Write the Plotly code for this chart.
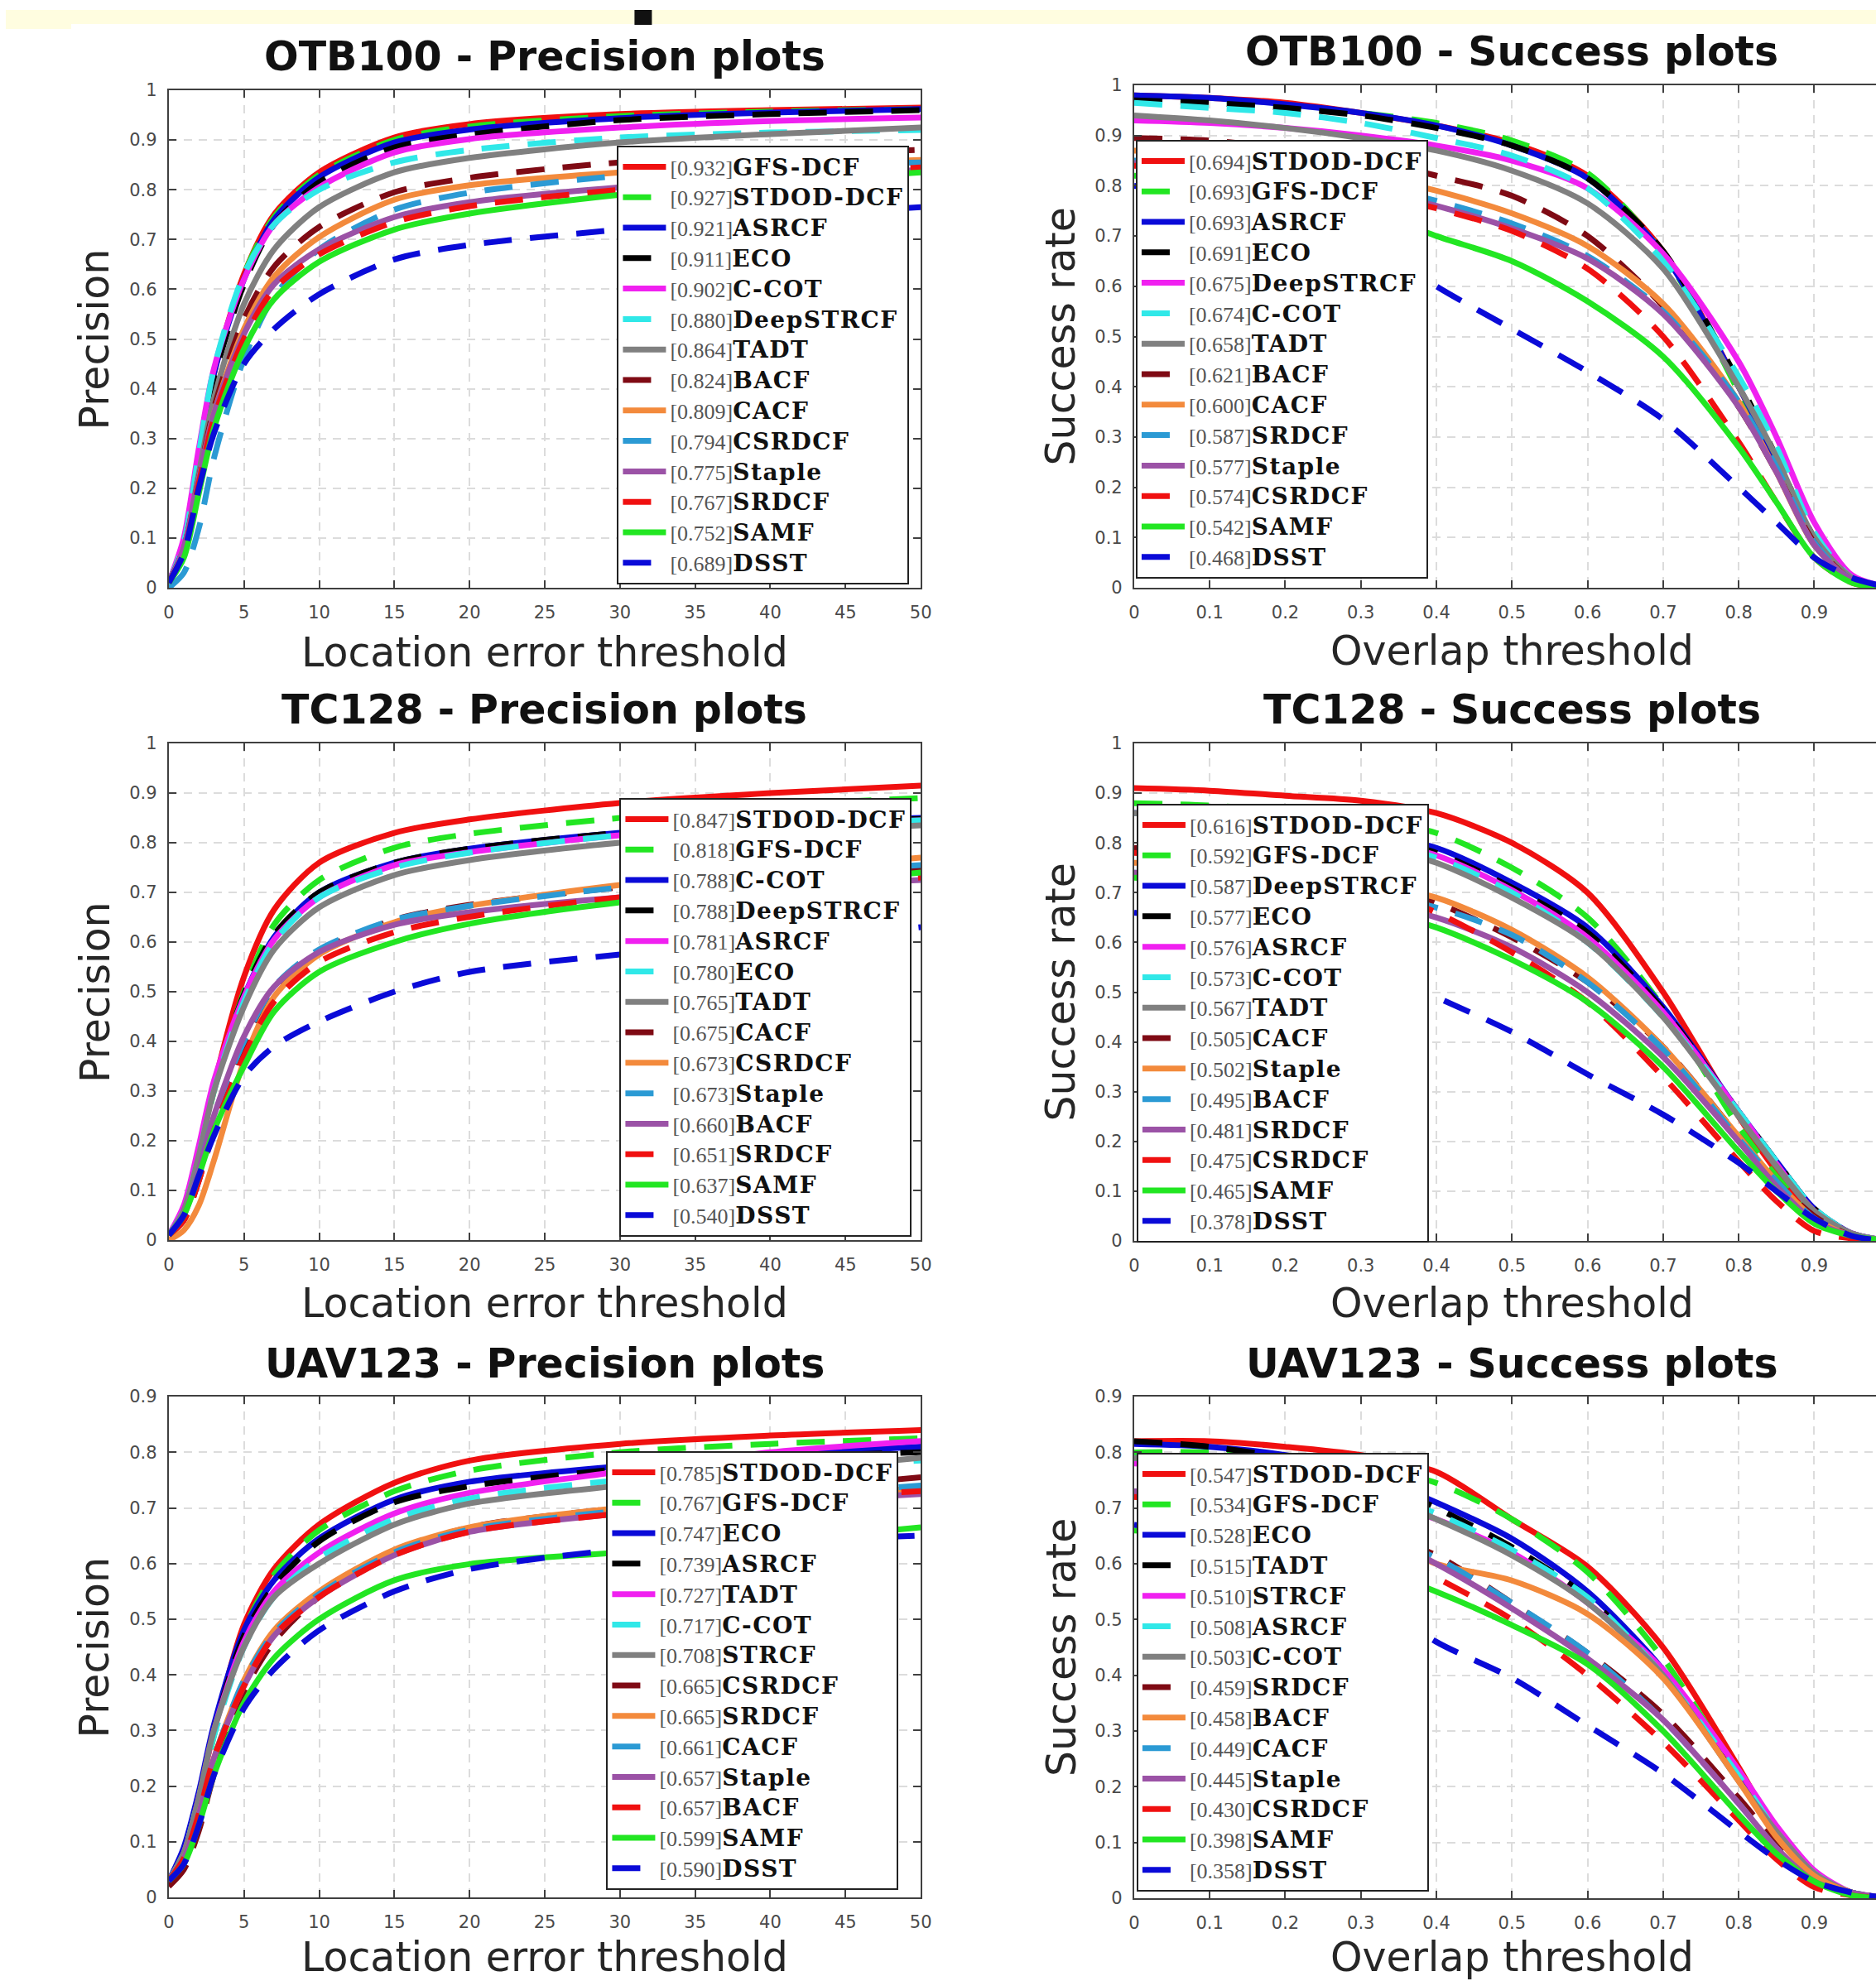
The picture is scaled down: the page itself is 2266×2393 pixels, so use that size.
import plotly.graph_objects as go

# small position correction measured against the viewer
OFF_X, SC_X = 6.0, 0.992
OFF_Y, SC_Y = 10.0, 0.990

REF_W, REF_H = 2266, 2393
W = int(round((REF_W - OFF_X) / SC_X)) + 1
H = int(round((REF_H - OFF_Y) / SC_Y)) + 1

PREC_X = [0, 1, 2, 3, 5, 7, 10, 15, 20, 30, 40, 50]
SUCC_X = [0, 0.1, 0.2, 0.3, 0.4, 0.5, 0.6, 0.7, 0.8, 0.85, 0.9, 0.95, 1.0]

PREC_TICKS = [0, 5, 10, 15, 20, 25, 30, 35, 40, 45, 50]
SUCC_TICKS = [0, 0.1, 0.2, 0.3, 0.4, 0.5, 0.6, 0.7, 0.8, 0.9]

# ---------------- OTB100 precision ----------------
OTB_P_NAMES = ["GFS-DCF", "STDOD-DCF", "ASRCF", "ECO", "C-COT", "DeepSTRCF", "TADT",
               "BACF", "CACF", "CSRDCF", "Staple", "SRDCF", "SAMF", "DSST"]
OTB_P_SCORES = [0.932, 0.927, 0.921, 0.911, 0.902, 0.880, 0.864, 0.824, 0.809, 0.794,
                0.775, 0.767, 0.752, 0.689]
OTB_P_Y = [
    [0.01, 0.09, 0.26, 0.43, 0.63, 0.75, 0.835, 0.905, 0.932, 0.952, 0.960, 0.965],
    [0.01, 0.09, 0.26, 0.43, 0.63, 0.745, 0.83, 0.90, 0.927, 0.948, 0.957, 0.962],
    [0.01, 0.09, 0.26, 0.43, 0.62, 0.74, 0.825, 0.895, 0.921, 0.944, 0.955, 0.962],
    [0.01, 0.09, 0.26, 0.42, 0.61, 0.73, 0.815, 0.885, 0.911, 0.940, 0.952, 0.960],
    [0.01, 0.10, 0.28, 0.44, 0.62, 0.73, 0.805, 0.875, 0.902, 0.925, 0.938, 0.945],
    [0.01, 0.09, 0.27, 0.44, 0.63, 0.73, 0.80, 0.855, 0.880, 0.905, 0.915, 0.920],
    [0.01, 0.08, 0.23, 0.38, 0.57, 0.68, 0.765, 0.835, 0.864, 0.895, 0.912, 0.925],
    [0.01, 0.08, 0.22, 0.36, 0.54, 0.645, 0.725, 0.795, 0.824, 0.855, 0.870, 0.880],
    [0.01, 0.07, 0.21, 0.35, 0.52, 0.625, 0.705, 0.78, 0.809, 0.835, 0.850, 0.860],
    [0.00, 0.03, 0.12, 0.26, 0.46, 0.585, 0.68, 0.76, 0.794, 0.828, 0.845, 0.855],
    [0.01, 0.08, 0.22, 0.35, 0.51, 0.61, 0.68, 0.745, 0.775, 0.805, 0.825, 0.840],
    [0.01, 0.07, 0.21, 0.34, 0.50, 0.60, 0.67, 0.735, 0.767, 0.800, 0.825, 0.845],
    [0.01, 0.06, 0.19, 0.32, 0.48, 0.58, 0.655, 0.72, 0.752, 0.790, 0.815, 0.835],
    [0.01, 0.07, 0.20, 0.31, 0.45, 0.52, 0.59, 0.66, 0.689, 0.720, 0.745, 0.765],
]

# ---------------- OTB100 success ----------------
OTB_S_NAMES = ["STDOD-DCF", "GFS-DCF", "ASRCF", "ECO", "DeepSTRCF", "C-COT", "TADT",
               "BACF", "CACF", "SRDCF", "Staple", "CSRDCF", "SAMF", "DSST"]
OTB_S_SCORES = [0.694, 0.693, 0.693, 0.691, 0.675, 0.674, 0.658, 0.621, 0.600, 0.587,
                0.577, 0.574, 0.542, 0.468]
OTB_S_Y = [
    [0.98, 0.975, 0.965, 0.945, 0.92, 0.885, 0.82, 0.67, 0.40, 0.25, 0.09, 0.015, 0.0],
    [0.975, 0.97, 0.96, 0.945, 0.925, 0.89, 0.825, 0.665, 0.39, 0.24, 0.085, 0.015, 0.0],
    [0.98, 0.975, 0.962, 0.945, 0.92, 0.88, 0.815, 0.665, 0.40, 0.25, 0.09, 0.015, 0.0],
    [0.97, 0.965, 0.955, 0.94, 0.915, 0.88, 0.815, 0.67, 0.41, 0.26, 0.10, 0.015, 0.0],
    [0.93, 0.925, 0.915, 0.90, 0.88, 0.85, 0.795, 0.665, 0.45, 0.30, 0.13, 0.025, 0.0],
    [0.965, 0.955, 0.945, 0.925, 0.895, 0.86, 0.795, 0.65, 0.42, 0.28, 0.11, 0.02, 0.0],
    [0.94, 0.93, 0.915, 0.895, 0.87, 0.83, 0.765, 0.635, 0.40, 0.26, 0.10, 0.02, 0.0],
    [0.895, 0.89, 0.875, 0.855, 0.82, 0.78, 0.70, 0.56, 0.36, 0.23, 0.09, 0.015, 0.0],
    [0.87, 0.865, 0.85, 0.825, 0.79, 0.745, 0.68, 0.565, 0.37, 0.23, 0.085, 0.015, 0.0],
    [0.85, 0.845, 0.83, 0.805, 0.77, 0.725, 0.66, 0.55, 0.37, 0.24, 0.09, 0.015, 0.0],
    [0.845, 0.835, 0.82, 0.795, 0.76, 0.715, 0.655, 0.545, 0.36, 0.23, 0.085, 0.015, 0.0],
    [0.84, 0.83, 0.81, 0.79, 0.755, 0.71, 0.635, 0.50, 0.29, 0.17, 0.06, 0.01, 0.0],
    [0.82, 0.81, 0.79, 0.755, 0.70, 0.65, 0.57, 0.46, 0.28, 0.17, 0.06, 0.01, 0.0],
    [0.80, 0.78, 0.75, 0.70, 0.60, 0.515, 0.43, 0.335, 0.20, 0.13, 0.06, 0.02, 0.0],
]

# ---------------- TC128 precision ----------------
TC_P_NAMES = ["STDOD-DCF", "GFS-DCF", "C-COT", "DeepSTRCF", "ASRCF", "ECO", "TADT",
              "CACF", "CSRDCF", "Staple", "BACF", "SRDCF", "SAMF", "DSST"]
TC_P_SCORES = [0.847, 0.818, 0.788, 0.788, 0.781, 0.780, 0.765, 0.675, 0.673, 0.673,
               0.660, 0.651, 0.637, 0.540]
TC_P_Y = [
    [0.01, 0.06, 0.17, 0.31, 0.53, 0.665, 0.76, 0.82, 0.847, 0.88, 0.90, 0.915],
    [0.01, 0.06, 0.16, 0.30, 0.50, 0.635, 0.725, 0.79, 0.818, 0.85, 0.875, 0.89],
    [0.01, 0.06, 0.17, 0.31, 0.49, 0.61, 0.70, 0.76, 0.788, 0.82, 0.84, 0.85],
    [0.01, 0.06, 0.17, 0.31, 0.495, 0.615, 0.70, 0.76, 0.788, 0.82, 0.838, 0.848],
    [0.01, 0.07, 0.19, 0.32, 0.49, 0.605, 0.69, 0.755, 0.781, 0.815, 0.835, 0.845],
    [0.01, 0.06, 0.17, 0.30, 0.48, 0.60, 0.69, 0.75, 0.780, 0.815, 0.835, 0.845],
    [0.01, 0.06, 0.17, 0.30, 0.47, 0.585, 0.67, 0.735, 0.765, 0.80, 0.82, 0.835],
    [0.01, 0.04, 0.12, 0.23, 0.39, 0.50, 0.58, 0.645, 0.675, 0.71, 0.73, 0.75],
    [0.00, 0.02, 0.07, 0.16, 0.36, 0.49, 0.575, 0.64, 0.673, 0.715, 0.745, 0.77],
    [0.01, 0.05, 0.14, 0.25, 0.40, 0.51, 0.585, 0.645, 0.673, 0.71, 0.735, 0.755],
    [0.01, 0.05, 0.14, 0.25, 0.41, 0.51, 0.58, 0.635, 0.660, 0.69, 0.71, 0.725],
    [0.01, 0.04, 0.12, 0.22, 0.37, 0.48, 0.56, 0.62, 0.651, 0.69, 0.71, 0.73],
    [0.01, 0.05, 0.13, 0.22, 0.35, 0.46, 0.54, 0.60, 0.637, 0.68, 0.71, 0.74],
    [0.01, 0.05, 0.13, 0.21, 0.33, 0.39, 0.44, 0.50, 0.540, 0.575, 0.60, 0.63],
]

# ---------------- TC128 success ----------------
TC_S_NAMES = ["STDOD-DCF", "GFS-DCF", "DeepSTRCF", "ECO", "ASRCF", "C-COT", "TADT",
              "CACF", "Staple", "BACF", "SRDCF", "CSRDCF", "SAMF", "DSST"]
TC_S_SCORES = [0.616, 0.592, 0.587, 0.577, 0.576, 0.573, 0.567, 0.505, 0.502, 0.495,
               0.481, 0.475, 0.465, 0.378]
TC_S_Y = [
    [0.91, 0.905, 0.895, 0.885, 0.86, 0.80, 0.70, 0.50, 0.25, 0.14, 0.05, 0.01, 0.0],
    [0.88, 0.875, 0.865, 0.85, 0.82, 0.75, 0.65, 0.47, 0.23, 0.13, 0.05, 0.01, 0.0],
    [0.86, 0.855, 0.84, 0.82, 0.79, 0.72, 0.63, 0.47, 0.26, 0.16, 0.065, 0.015, 0.0],
    [0.86, 0.85, 0.835, 0.815, 0.78, 0.71, 0.62, 0.465, 0.26, 0.16, 0.065, 0.015, 0.0],
    [0.86, 0.85, 0.835, 0.81, 0.775, 0.705, 0.61, 0.46, 0.26, 0.155, 0.06, 0.015, 0.0],
    [0.86, 0.85, 0.83, 0.81, 0.77, 0.70, 0.60, 0.45, 0.26, 0.16, 0.065, 0.015, 0.0],
    [0.86, 0.85, 0.83, 0.80, 0.76, 0.69, 0.60, 0.45, 0.25, 0.15, 0.06, 0.015, 0.0],
    [0.79, 0.78, 0.76, 0.73, 0.68, 0.61, 0.52, 0.39, 0.21, 0.12, 0.05, 0.01, 0.0],
    [0.76, 0.755, 0.74, 0.72, 0.69, 0.625, 0.53, 0.39, 0.21, 0.12, 0.045, 0.01, 0.0],
    [0.74, 0.735, 0.72, 0.70, 0.67, 0.615, 0.52, 0.385, 0.205, 0.12, 0.045, 0.01, 0.0],
    [0.74, 0.73, 0.71, 0.685, 0.65, 0.59, 0.50, 0.37, 0.20, 0.11, 0.04, 0.01, 0.0],
    [0.78, 0.77, 0.75, 0.72, 0.66, 0.58, 0.48, 0.33, 0.16, 0.08, 0.02, 0.005, 0.0],
    [0.73, 0.72, 0.70, 0.67, 0.63, 0.565, 0.48, 0.35, 0.18, 0.10, 0.035, 0.01, 0.0],
    [0.66, 0.64, 0.61, 0.56, 0.49, 0.42, 0.335, 0.254, 0.157, 0.10, 0.045, 0.01, 0.0],
]

# ---------------- UAV123 precision ----------------
UAV_P_NAMES = ["STDOD-DCF", "GFS-DCF", "ECO", "ASRCF", "TADT", "C-COT", "STRCF",
               "CSRDCF", "SRDCF", "CACF", "Staple", "BACF", "SAMF", "DSST"]
UAV_P_SCORES = [0.785, 0.767, 0.747, 0.739, 0.727, 0.717, 0.708, 0.665, 0.665, 0.661,
                0.657, 0.657, 0.599, 0.590]
UAV_P_Y = [
    [0.03, 0.08, 0.18, 0.30, 0.49, 0.59, 0.67, 0.745, 0.785, 0.815, 0.83, 0.84],
    [0.03, 0.08, 0.17, 0.29, 0.48, 0.58, 0.66, 0.73, 0.767, 0.80, 0.815, 0.825],
    [0.03, 0.09, 0.19, 0.31, 0.48, 0.57, 0.645, 0.715, 0.747, 0.775, 0.795, 0.81],
    [0.03, 0.08, 0.18, 0.30, 0.47, 0.56, 0.64, 0.71, 0.739, 0.77, 0.79, 0.80],
    [0.03, 0.08, 0.18, 0.30, 0.46, 0.55, 0.62, 0.69, 0.727, 0.765, 0.80, 0.82],
    [0.03, 0.08, 0.18, 0.29, 0.45, 0.54, 0.61, 0.68, 0.717, 0.75, 0.77, 0.785],
    [0.03, 0.08, 0.18, 0.30, 0.45, 0.54, 0.60, 0.67, 0.708, 0.74, 0.765, 0.79],
    [0.02, 0.05, 0.12, 0.22, 0.37, 0.46, 0.54, 0.62, 0.665, 0.70, 0.73, 0.755],
    [0.03, 0.07, 0.15, 0.25, 0.39, 0.48, 0.55, 0.625, 0.665, 0.70, 0.72, 0.735],
    [0.03, 0.07, 0.15, 0.25, 0.39, 0.475, 0.545, 0.62, 0.661, 0.695, 0.72, 0.74],
    [0.03, 0.07, 0.15, 0.25, 0.38, 0.47, 0.54, 0.615, 0.657, 0.69, 0.71, 0.725],
    [0.03, 0.07, 0.15, 0.25, 0.38, 0.47, 0.54, 0.615, 0.657, 0.69, 0.715, 0.73],
    [0.03, 0.06, 0.13, 0.22, 0.35, 0.43, 0.50, 0.57, 0.599, 0.62, 0.64, 0.665],
    [0.03, 0.06, 0.13, 0.22, 0.34, 0.41, 0.48, 0.55, 0.590, 0.625, 0.64, 0.65],
]

# ---------------- UAV123 success ----------------
UAV_S_NAMES = ["STDOD-DCF", "GFS-DCF", "ECO", "TADT", "STRCF", "ASRCF", "C-COT",
               "SRDCF", "BACF", "CACF", "Staple", "CSRDCF", "SAMF", "DSST"]
UAV_S_SCORES = [0.547, 0.534, 0.528, 0.515, 0.510, 0.508, 0.503, 0.459, 0.458, 0.449,
                0.445, 0.430, 0.398, 0.358]
UAV_S_Y = [
    [0.82, 0.82, 0.81, 0.795, 0.765, 0.68, 0.595, 0.45, 0.235, 0.12, 0.04, 0.01, 0.0],
    [0.80, 0.80, 0.79, 0.775, 0.745, 0.68, 0.585, 0.43, 0.22, 0.12, 0.04, 0.01, 0.0],
    [0.815, 0.81, 0.795, 0.765, 0.71, 0.645, 0.55, 0.41, 0.22, 0.12, 0.04, 0.01, 0.0],
    [0.82, 0.81, 0.79, 0.76, 0.70, 0.63, 0.54, 0.40, 0.22, 0.12, 0.045, 0.01, 0.0],
    [0.78, 0.77, 0.75, 0.72, 0.68, 0.62, 0.53, 0.41, 0.23, 0.13, 0.05, 0.01, 0.0],
    [0.79, 0.785, 0.77, 0.74, 0.69, 0.625, 0.54, 0.40, 0.22, 0.12, 0.045, 0.01, 0.0],
    [0.79, 0.78, 0.765, 0.735, 0.68, 0.615, 0.53, 0.40, 0.21, 0.12, 0.045, 0.01, 0.0],
    [0.73, 0.72, 0.70, 0.665, 0.615, 0.53, 0.44, 0.33, 0.18, 0.10, 0.035, 0.01, 0.0],
    [0.72, 0.71, 0.69, 0.66, 0.60, 0.57, 0.51, 0.395, 0.21, 0.11, 0.04, 0.01, 0.0],
    [0.73, 0.72, 0.70, 0.665, 0.61, 0.53, 0.44, 0.32, 0.17, 0.09, 0.03, 0.01, 0.0],
    [0.73, 0.72, 0.70, 0.665, 0.60, 0.52, 0.43, 0.32, 0.17, 0.09, 0.03, 0.01, 0.0],
    [0.72, 0.71, 0.68, 0.64, 0.575, 0.50, 0.40, 0.28, 0.14, 0.07, 0.02, 0.005, 0.0],
    [0.66, 0.65, 0.63, 0.60, 0.55, 0.49, 0.42, 0.30, 0.15, 0.08, 0.03, 0.005, 0.0],
    [0.67, 0.65, 0.61, 0.55, 0.46, 0.395, 0.31, 0.224, 0.12, 0.07, 0.03, 0.01, 0.0],
]

# style by rank
COLORS = ["#F01010", "#22E622", "#0A0AD8", "#000000", "#F020F0", "#30E8E8", "#808080",
          "#7F0A14", "#F38A3C", "#2B9AD4", "#9B52A6", "#F01010", "#22E622", "#0A0AD8"]
DASHED = [False, True, False, True, False, True, False, True, False, True, False, True, False, True]


def px_x(p):
    return min(1.0, max(0.0, ((p - OFF_X) / SC_X) / W))


def px_y(p):
    return min(1.0, max(0.0, 1 - ((p - OFF_Y) / SC_Y) / H))


# panel specs: (title, kind, names, scores, ys, xdomain px, ydomain px, yrange, title y, xtitle y, legend xy px)
PANELS = [
    ("OTB100 - Precision plots", "p", OTB_P_NAMES, OTB_P_SCORES, OTB_P_Y, (203, 1112), (107, 708), 1.0, 66, 786, (745, 174)),
    ("OTB100 - Success plots", "s", OTB_S_NAMES, OTB_S_SCORES, OTB_S_Y, (1370, 2266), (101, 708), 1.0, 60, 784, (1372, 167)),
    ("TC128 - Precision plots", "p", TC_P_NAMES, TC_P_SCORES, TC_P_Y, (203, 1112), (896, 1496), 1.0, 855, 1572, (748, 962)),
    ("TC128 - Success plots", "s", TC_S_NAMES, TC_S_SCORES, TC_S_Y, (1370, 2266), (896, 1497), 1.0, 855, 1572, (1373, 969)),
    ("UAV123 - Precision plots", "p", UAV_P_NAMES, UAV_P_SCORES, UAV_P_Y, (203, 1112), (1685, 2290), 0.9, 1645, 2362, (732, 1751)),
    ("UAV123 - Success plots", "s", UAV_S_NAMES, UAV_S_SCORES, UAV_S_Y, (1370, 2266), (1685, 2291), 0.9, 1645, 2362, (1373, 1753)),
]

SUCC_UNIT_PX = 913.5

fig = go.Figure()
layout = dict(
    width=W, height=H, margin=dict(l=0, r=0, t=0, b=0),
    paper_bgcolor="white", plot_bgcolor="white", showlegend=True,
)
annotations = []
shapes = []

AX_COLOR = "#404040"
TICK_FONT = dict(family="DejaVu Sans", size=21, color="#4a4a4a")

for i, (title, kind, names, scores, ys, xd, yd, ymax, ty, xty, lxy) in enumerate(PANELS):
    k = "" if i == 0 else str(i + 1)
    xref = "x" + k
    yref = "y" + k
    leg = "legend" + k
    xs = PREC_X if kind == "p" else SUCC_X
    for r, (n, s, yv) in enumerate(zip(names, scores, ys)):
        label = (f"<span style=\"color:#555555\">[{s:.3f}]</span>"
                 f"<span style=\"font-family:DejaVu Serif;font-weight:bold;font-size:28px;letter-spacing:1.5px\">{n}</span>")
        fig.add_trace(go.Scatter(
            x=xs, y=yv, mode="lines", name=label,
            line=dict(color=COLORS[r], width=7, shape="spline", smoothing=0.8,
                      dash="34px,22px" if DASHED[r] else "solid"),
            xaxis=xref, yaxis=yref, legend=leg, hoverinfo="skip",
        ))
    left = kind == "p"
    x_hi = px_x(xd[1]) if left else 1.0
    if left:
        xrange = [0, 50]
        xt = PREC_TICKS
        xtext = [str(v) for v in PREC_TICKS]
    else:
        xrange = [0, (x_hi - px_x(xd[0])) * W * SC_X / SUCC_UNIT_PX]
        xt = SUCC_TICKS
        xtext = ["0"] + [f"{v:.1f}" for v in SUCC_TICKS[1:]]
    yt = [round(v * 0.1, 1) for v in range(0, int(round(ymax * 10)) + 1)]
    ytext = ["0"] + [("1" if v == 1.0 else f"{v:.1f}") for v in yt[1:]]
    xa = dict(
        domain=[px_x(xd[0]), x_hi], range=xrange, anchor=yref,
        tickvals=xt, ticktext=xtext, ticks="inside", ticklen=9, tickwidth=1.5,
        tickcolor=AX_COLOR, showline=True, linecolor=AX_COLOR, linewidth=2,
        mirror="ticks", showgrid=True, gridcolor="#dcdcdc", gridwidth=1.5,
        griddash="10px,8px", zeroline=False, tickfont=TICK_FONT, ticklabelstandoff=10,
        fixedrange=True,
    )
    ya = dict(
        domain=[px_y(yd[1]), px_y(yd[0])], range=[0, ymax], anchor=xref,
        tickvals=yt, ticktext=ytext, ticks="inside", ticklen=9, tickwidth=1.5,
        tickcolor=AX_COLOR, showline=True, linecolor=AX_COLOR, linewidth=2,
        mirror="ticks" if left else False, showgrid=True, gridcolor="#dcdcdc",
        gridwidth=1.5, griddash="10px,8px", zeroline=False, tickfont=TICK_FONT,
        ticklabelstandoff=8, fixedrange=True,
    )
    layout["xaxis" + k] = xa
    layout["yaxis" + k] = ya
    layout[leg] = dict(
        x=px_x(lxy[0]), y=px_y(lxy[1]), xanchor="left", yanchor="top",
        bgcolor="white", bordercolor="#222222", borderwidth=2,
        font=dict(family="Liberation Serif", size=26, color="#111111"),
        itemwidth=52, tracegroupgap=0, traceorder="normal",
        itemclick=False, itemdoubleclick=False,
    )
    cx = (xd[0] + xd[1]) / 2 if left else xd[0] + SUCC_UNIT_PX / 2
    annotations.append(dict(
        text=f"<b>{title}</b>", x=px_x(cx), y=px_y(ty), xref="paper", yref="paper",
        xanchor="center", yanchor="middle", showarrow=False,
        font=dict(family="DejaVu Sans", size=49, color="#111111"),
    ))
    annotations.append(dict(
        text="Location error threshold" if left else "Overlap threshold",
        x=px_x(cx), y=px_y(xty), xref="paper", yref="paper",
        xanchor="center", yanchor="middle", showarrow=False,
        font=dict(family="DejaVu Sans", size=49, color="#262626"),
    ))
    annotations.append(dict(
        text="Precision" if left else "Success rate",
        x=px_x(114 if left else 1282), y=px_y((yd[0] + yd[1]) / 2),
        xref="paper", yref="paper", xanchor="center", yanchor="middle",
        textangle=-90, showarrow=False,
        font=dict(family="DejaVu Sans", size=49, color="#262626"),
    ))

# top banner (cropped header of the source page)
shapes.append(dict(type="rect", xref="paper", yref="paper", x0=0, x1=1,
                   y0=px_y(27), y1=1, fillcolor="#FFFDE0", line=dict(width=0), layer="below"))
shapes.append(dict(type="rect", xref="paper", yref="paper", x0=0, x1=px_x(85),
                   y0=px_y(33), y1=1, fillcolor="#FFFDE0", line=dict(width=0), layer="below"))
shapes.append(dict(type="rect", xref="paper", yref="paper", x0=px_x(766), x1=px_x(787),
                   y0=px_y(28), y1=1, fillcolor="#111111", line=dict(width=0), layer="above"))

layout["annotations"] = annotations
layout["shapes"] = shapes
fig.update_layout(**layout)

POST = ("document.documentElement.style.margin='0px';document.body.style.margin='0px';"
        "document.body.style.padding='0px';"
        "document.body.style.overflow='hidden';document.documentElement.style.overflow='hidden';"
        "var gd=document.getElementById('{plot_id}');"
        "gd.style.position='absolute';gd.style.left='0px';gd.style.top='0px';")
fig.write_html("out.html", config={"displayModeBar": False}, post_script=POST)
